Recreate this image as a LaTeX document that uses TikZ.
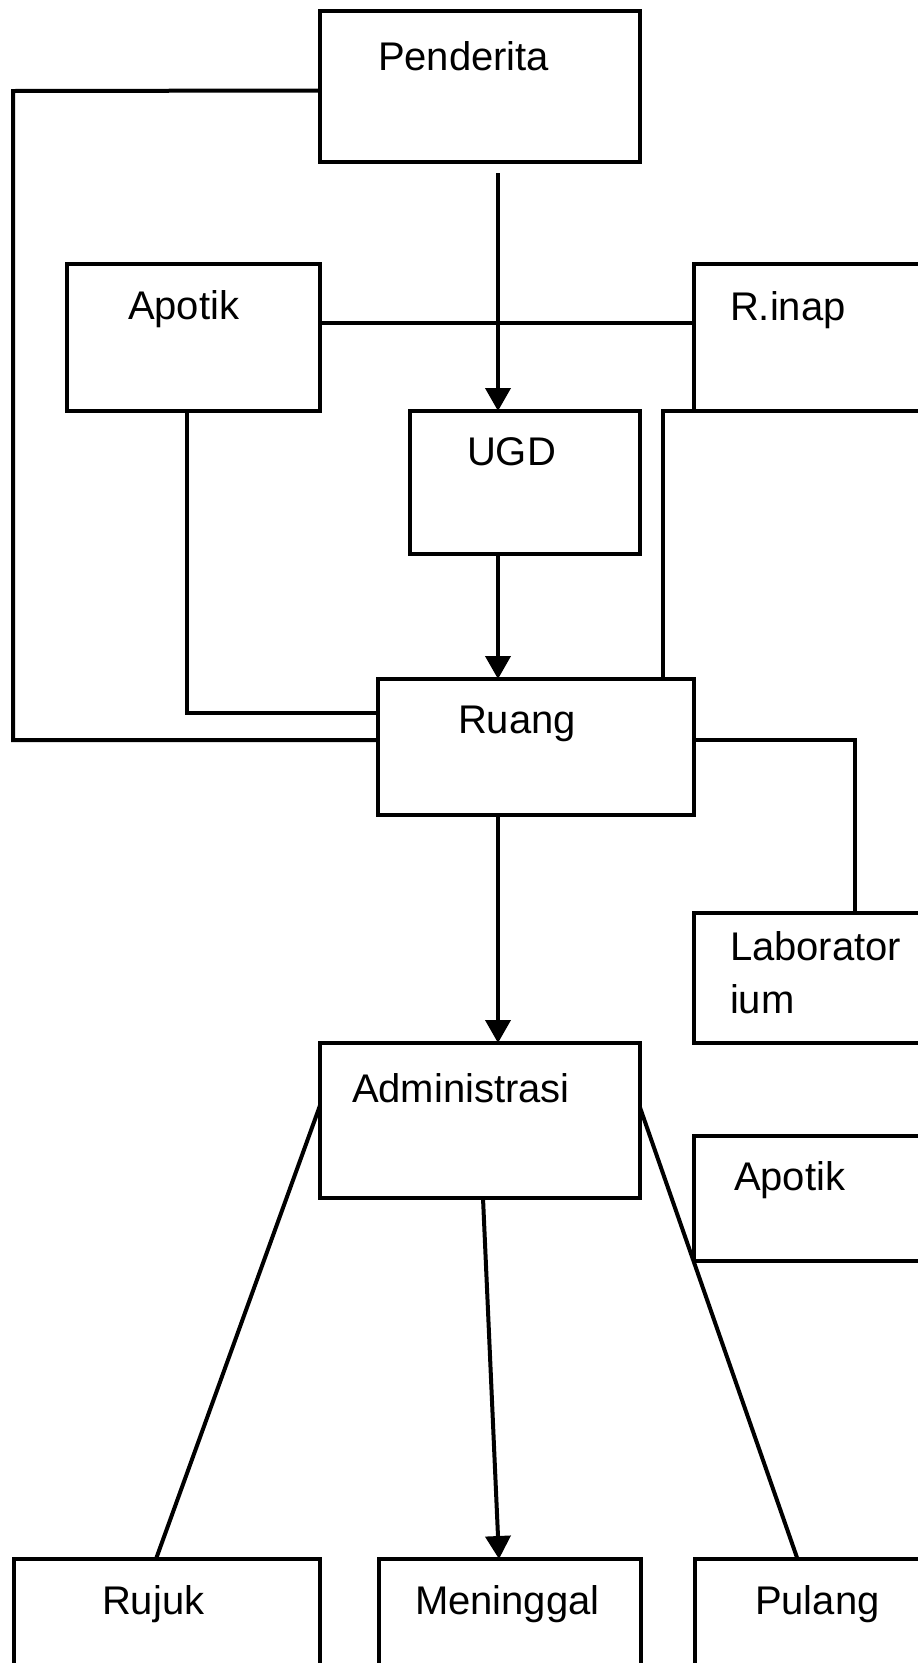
\documentclass[tikz,border=0pt]{standalone}
\usepackage{fontspec}
\setmainfont{Liberation Sans}
\usetikzlibrary{arrows.meta}
\begin{document}
\begin{tikzpicture}[x=1pt,y=-1pt,>={Triangle[length=23pt,width=25pt]},line width=4pt,
	kotak/.style={draw,line width=4pt,anchor=north west,inner sep=0pt,outer sep=0pt},
	teks/.style={anchor=base west,inner sep=0pt,font=\fontsize{40}{53}\selectfont}]
	\useasboundingbox (0,0) rectangle (918,1663);
	%Kotak
	\node[kotak,minimum width=320pt,minimum height=151pt] (penderita) at (320,11) {};
	\node[kotak,minimum width=253pt,minimum height=147pt] (apotikL) at (67,264) {};
	\node[kotak,minimum width=322pt,minimum height=147pt] (rinap) at (694,264) {};
	\node[kotak,minimum width=230pt,minimum height=143pt] (ugd) at (410,411) {};
	\node[kotak,minimum width=316pt,minimum height=136pt] (ruang) at (378,679) {};
	\node[kotak,minimum width=322pt,minimum height=130pt] (lab) at (694,913) {};
	\node[kotak,minimum width=320pt,minimum height=155pt] (admin) at (320,1043) {};
	\node[kotak,minimum width=322pt,minimum height=125pt] (apotikR) at (694,1136) {};
	\node[kotak,minimum width=306pt,minimum height=160pt] (rujuk) at (14,1559) {};
	\node[kotak,minimum width=262pt,minimum height=160pt] (meninggal) at (379,1559) {};
	\node[kotak,minimum width=321pt,minimum height=160pt] (pulang) at (695,1559) {};
	%Teks
	\node[teks] (tpenderita) at (376,70) {Penderita};
	\node[teks] (tapotikL) at (126,319) {Apotik};
	\node[teks] (trinap) at (728,320) {R.inap};
	\node[teks] (tugd) at (465,465) {UGD};
	\node[teks] (truang) at (456,733) {Ruang};
	\node[teks] (tlab1) at (728,960) {Laborator};
	\node[teks] (tlab2) at (728,1013) {ium};
	\node[teks] (tadmin) at (350,1102) {Administrasi};
	\node[teks] (tapotikR) at (732,1190) {Apotik};
	\node[teks] (trujuk) at (100,1614) {Rujuk};
	\node[teks] (tmeninggal) at (413,1614) {Meninggal};
	\node[teks] (tpulang) at (753,1614) {Pulang};
	%Titik bantu
	\path (498,0) coordinate (spine)
	(13,91) coordinate (K1)
	(13,740) coordinate (K2)
	(187,713) coordinate (K3);
	%Panah tengah
	\draw[->,shorten <=11pt] (penderita.south -| spine) -- (ugd.north -| spine);
	\draw[->] (ugd.south -| spine) -- (ruang.north -| spine);
	\draw[->] (ruang.south -| spine) -- (admin.north -| spine);
	\draw[->] ([xshift=3pt]admin.south) -- ([xshift=-11pt]meninggal.north);
	%Garis
	\draw ([yshift=-4pt]penderita.west) -- (K1) -- (K2) -- (K2 -| ruang.west);
	\draw ([yshift=15pt]apotikL.east) -- ([yshift=15pt]rinap.west);
	\draw (apotikL.south -| K3) -- (K3) -- (K3 -| ruang.west);
	\draw (rinap.south west) -| ([xshift=-31pt]ruang.north east);
	\draw ([yshift=7pt]ruang.east) -| (lab.north);
	\draw ([yshift=15pt]admin.west) -- ([xshift=-11pt]rujuk.north);
	\draw ([yshift=13pt]admin.east) -- ([xshift=-58pt]pulang.north);
\end{tikzpicture}
\end{document}
